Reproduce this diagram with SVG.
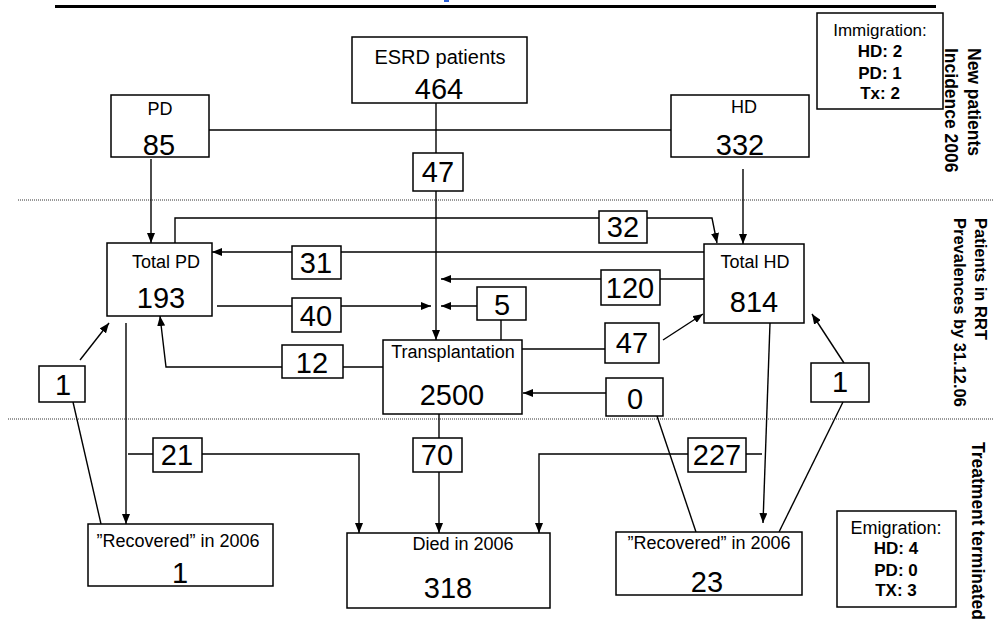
<svg xmlns="http://www.w3.org/2000/svg" width="993" height="623" viewBox="0 0 993 623">
<defs>
<marker id="ah" markerUnits="userSpaceOnUse" markerWidth="10" markerHeight="8" refX="10" refY="4" orient="auto">
<path d="M0,0 L10,4 L0,8 z" fill="#000"/>
</marker>
</defs>
<style>
.box{fill:#fff;stroke:#000;stroke-width:1.5}
.ln{fill:none;stroke:#000;stroke-width:1.4}
.ar{fill:none;stroke:#000;stroke-width:1.4;marker-end:url(#ah)}
.dot{stroke:#333;stroke-width:1;stroke-dasharray:1,1}
text{font-family:"Liberation Sans",Arial,sans-serif;fill:#000;text-anchor:middle}
.lb{font-size:18px}
.num{font-size:29px}
.b{font-weight:bold;font-size:17px}
.side{font-weight:bold;font-size:17.5px;text-anchor:start}
.side2{font-weight:bold;font-size:16.5px;text-anchor:start}
</style>
<rect x="0" y="0" width="993" height="623" fill="#fff"/>
<rect x="444" y="0" width="5" height="2" fill="#2a5fd8"/>
<line x1="55" y1="6.5" x2="936" y2="6.5" stroke="#000" stroke-width="3"/>
<line class="dot" x1="18" y1="200" x2="993" y2="200"/>
<line class="dot" x1="8" y1="419" x2="993" y2="419"/>

<g id="connectors">
<line class="ln" x1="209" y1="130" x2="671" y2="130"/>
<line class="ar" x1="151" y1="159" x2="151" y2="243"/>
<line class="ar" x1="436" y1="103" x2="436" y2="340"/>
<line class="ar" x1="743" y1="169" x2="743" y2="244"/>
<polyline class="ar" points="175,243 175,218 712,218 717,243"/>
<line class="ar" x1="704" y1="252" x2="212" y2="252"/>
<line class="ar" x1="704" y1="279" x2="441" y2="279"/>
<line class="ar" x1="217" y1="306" x2="431" y2="306"/>
<line class="ar" x1="477" y1="306" x2="441" y2="306"/>
<line class="ln" x1="501" y1="320" x2="501" y2="340"/>
<line class="ln" x1="522" y1="349" x2="605" y2="349"/>
<line class="ar" x1="663" y1="340" x2="703" y2="314"/>
<polyline class="ar" points="383,367 166,367 160,316"/>
<line class="ar" x1="606" y1="393" x2="523" y2="393"/>
<line class="ln" x1="657" y1="416" x2="696" y2="532"/>
<line class="ar" x1="80" y1="360" x2="109" y2="323"/>
<line class="ln" x1="73" y1="402" x2="101" y2="524"/>
<line class="ar" x1="126" y1="323" x2="126" y2="524"/>
<polyline class="ar" points="128,454 359,454 359,533"/>
<line class="ar" x1="439" y1="414" x2="439" y2="533"/>
<polyline class="ar" points="762,454 539,454 539,533"/>
<line class="ar" x1="770" y1="323" x2="763" y2="523"/>
<line class="ar" x1="844" y1="363" x2="812" y2="314"/>
<line class="ln" x1="843" y1="402" x2="779" y2="532"/>
</g>

<g id="esrd"><rect class="box" x="352" y="37" width="175" height="66"/>
<text x="440" y="64" style="font-size:20px">ESRD patients</text>
<text class="num" x="439" y="99">464</text></g>

<g id="pd"><rect class="box" x="111" y="95" width="98" height="62"/>
<text class="lb" x="160" y="115">PD</text>
<text class="num" x="159" y="155">85</text></g>

<g id="hd"><rect class="box" x="671" y="95" width="138" height="62"/>
<text class="lb" x="744" y="113">HD</text>
<text class="num" x="740" y="155">332</text></g>

<g id="n47a"><rect class="box" x="413" y="153" width="50" height="38"/>
<text class="num" x="438" y="182">47</text></g>

<g id="immigration"><rect class="box" x="817" y="13" width="126" height="96"/>
<text x="880" y="36" style="font-size:17px">Immigration:</text>
<text class="b" x="880" y="57">HD: 2</text>
<text class="b" x="880" y="79">PD: 1</text>
<text class="b" x="880" y="99">Tx: 2</text></g>

<g id="totalpd"><rect class="box" x="107" y="243" width="105" height="73"/>
<text class="lb" x="166" y="268">Total PD</text>
<text class="num" x="161" y="308">193</text></g>

<g id="totalhd"><rect class="box" x="704" y="244" width="100" height="79"/>
<text class="lb" x="755" y="268">Total HD</text>
<text class="num" x="754" y="312">814</text></g>

<g id="n32"><rect class="box" x="599" y="211" width="48" height="32"/>
<text class="num" x="623" y="237">32</text></g>
<g id="n31"><rect class="box" x="292" y="246" width="49" height="33"/>
<text class="num" x="316" y="273">31</text></g>
<g id="n120"><rect class="box" x="601" y="270" width="59" height="35"/>
<text class="num" x="630" y="298">120</text></g>
<g id="n40"><rect class="box" x="292" y="298" width="49" height="34"/>
<text class="num" x="316" y="326">40</text></g>
<g id="n5"><rect class="box" x="477" y="287" width="49" height="33"/>
<text class="num" x="502" y="315">5</text></g>
<g id="n12"><rect class="box" x="282" y="345" width="61" height="33"/>
<text class="num" x="312" y="373">12</text></g>
<g id="n47b"><rect class="box" x="605" y="323" width="54" height="40"/>
<text class="num" x="632" y="353">47</text></g>
<g id="n0"><rect class="box" x="606" y="378" width="57" height="38"/>
<text class="num" x="635" y="409">0</text></g>
<g id="n1a"><rect class="box" x="39" y="366" width="46" height="36"/>
<text class="num" x="63" y="395">1</text></g>
<g id="n1b"><rect class="box" x="811" y="363" width="58" height="39"/>
<text class="num" x="840" y="392">1</text></g>

<g id="transplantation"><rect class="box" x="383" y="340" width="139" height="74"/>
<text class="lb" x="453" y="358">Transplantation</text>
<text class="num" x="452" y="405">2500</text></g>

<g id="n21"><rect class="box" x="153" y="438" width="49" height="34"/>
<text class="num" x="177" y="465">21</text></g>
<g id="n70"><rect class="box" x="413" y="438" width="49" height="34"/>
<text class="num" x="437" y="465">70</text></g>
<g id="n227"><rect class="box" x="688" y="438" width="58" height="34"/>
<text class="num" x="717" y="465">227</text></g>

<g id="recovered1"><rect class="box" x="88" y="524" width="185" height="62"/>
<text class="lb" x="178" y="547">”Recovered” in 2006</text>
<text class="num" x="180" y="583">1</text></g>

<g id="died"><rect class="box" x="347" y="533" width="203" height="75"/>
<text class="lb" x="463" y="550">Died in 2006</text>
<text class="num" x="448" y="598">318</text></g>

<g id="recovered2"><rect class="box" x="616" y="532" width="186" height="63"/>
<text class="lb" x="709" y="549">”Recovered” in 2006</text>
<text class="num" x="707" y="592">23</text></g>

<g id="emigration"><rect class="box" x="837" y="511" width="119" height="96"/>
<text x="896" y="534" style="font-size:18px">Emigration:</text>
<text class="b" x="896" y="554">HD: 4</text>
<text class="b" x="896" y="576">PD: 0</text>
<text class="b" x="896" y="596">TX: 3</text></g>

<g id="side-labels">
<text class="side" transform="translate(968,48) rotate(90)">New patients</text>
<text class="side" transform="translate(945,48) rotate(90)">Incidence 2006</text>
<text class="side2" transform="translate(975,218) rotate(90)">Patients in RRT</text>
<text class="side2" transform="translate(954,218) rotate(90)">Prevalences by 31.12.06</text>
<text class="side" transform="translate(972,442) rotate(90)">Treatment terminated</text>
</g>
</svg>
